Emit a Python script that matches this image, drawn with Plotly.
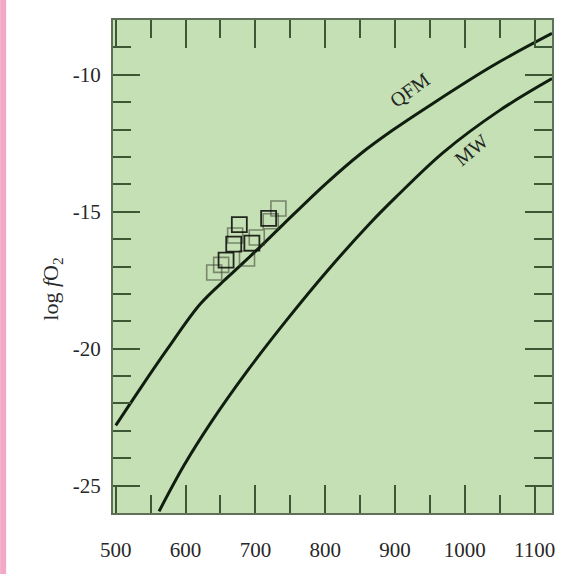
import plotly.graph_objects as go

# ---- data ----
qfm_t = [500, 536, 574, 621, 660, 700, 740, 800, 850, 898, 945, 1040, 1125]
qfm_f = [-22.8, -21.42, -20.01, -18.37, -17.4, -16.45, -15.46, -14.0, -12.9, -12.0, -11.2, -9.67, -8.49]

mw_t = [562, 598, 636, 688, 745, 802, 864, 902, 969, 1050, 1125]
mw_f = [-25.94, -24.25, -22.71, -20.83, -18.95, -17.19, -15.43, -14.45, -12.84, -11.3, -10.14]

sq_dark_t = [658, 669, 677, 695, 719]
sq_dark_f = [-16.77, -16.18, -15.47, -16.15, -15.24]
sq_light_t = [641, 651, 671, 688, 702, 722, 733]
sq_light_f = [-17.22, -16.94, -15.87, -16.71, -15.94, -15.35, -14.88]

x_tick_vals = [500, 600, 700, 800, 900, 1000, 1100]
x_tick_text = ["500", "600", "700", "800", "900", "1000", "1100"]
y_tick_vals = [-25, -20, -15, -10]
y_tick_text = ["-25", "-20", "-15", "-10"]

curve_labels = ["QFM", "MW"]

# ---- styling ----
FONT = "Liberation Serif, Times New Roman, serif"
LINE = "rgb(15,30,15)"
TICK = "rgb(60,88,52)"
BORDER = "rgb(95,112,88)"
BG = "rgb(198,224,181)"

fig = go.Figure()
fig.add_trace(go.Scatter(x=qfm_t, y=qfm_f, mode="lines",
                         line=dict(color=LINE, width=3, shape="spline", smoothing=1.0),
                         hoverinfo="skip"))
fig.add_trace(go.Scatter(x=mw_t, y=mw_f, mode="lines",
                         line=dict(color=LINE, width=3, shape="spline", smoothing=1.0),
                         hoverinfo="skip"))
fig.add_trace(go.Scatter(x=sq_light_t, y=sq_light_f, mode="markers",
                         marker=dict(symbol="square-open", size=15,
                                     color="rgba(55,60,50,0.55)", line=dict(width=1.6))))
fig.add_trace(go.Scatter(x=sq_dark_t, y=sq_dark_f, mode="markers",
                         marker=dict(symbol="square-open", size=15,
                                     color="rgba(15,20,15,0.9)", line=dict(width=1.8))))

fig.add_annotation(x=921, y=-10.55, text=curve_labels[0], showarrow=False,
                   textangle=-36, font=dict(family=FONT, size=20, color="rgb(30,40,30)"))
fig.add_annotation(x=1009, y=-12.75, text=curve_labels[1], showarrow=False,
                   textangle=-40, font=dict(family=FONT, size=20, color="rgb(30,40,30)"))

# y-axis title as annotation
fig.add_annotation(xref="paper", yref="paper", x=-0.139, y=0.455,
                   text="log <i>f</i>O<sub>2</sub>", showarrow=False, textangle=-90,
                   xanchor="center", yanchor="middle",
                   font=dict(family=FONT, size=22, color="rgb(40,40,40)"))

# pink strip on the left edge
fig.add_shape(type="rect", xref="paper", yref="paper",
              x0=-113 / 439.5, x1=(6 - 113) / 439.5, y0=-0.2, y1=1.2,
              fillcolor="rgb(244,168,200)", line=dict(width=0), layer="below")

fig.update_xaxes(range=[496, 1125], tickvals=x_tick_vals, ticktext=x_tick_text,
                 ticks="inside", ticklen=28, tickwidth=2, tickcolor=TICK,
                 minor=dict(tick0=500, dtick=50, ticks="inside", ticklen=18,
                            tickwidth=2, tickcolor=TICK),
                 showline=True, linecolor=BORDER, linewidth=2, mirror="ticks",
                 showgrid=False, zeroline=False, ticklabelstandoff=17,
                 tickfont=dict(family=FONT, size=21, color="rgb(40,40,40)"))
fig.update_yaxes(range=[-26, -8], tickvals=y_tick_vals, ticktext=y_tick_text,
                 ticks="inside", ticklen=27, tickwidth=2, tickcolor=TICK,
                 minor=dict(tick0=-26, dtick=1, ticks="inside", ticklen=18,
                            tickwidth=2, tickcolor=TICK),
                 showline=True, linecolor=BORDER, linewidth=2, mirror="ticks",
                 showgrid=False, zeroline=False, ticklabelstandoff=6,
                 tickfont=dict(family=FONT, size=21, color="rgb(40,40,40)"))

fig.update_layout(width=567, height=574, showlegend=False,
                  margin=dict(l=113, r=14.5, t=20, b=47),
                  plot_bgcolor=BG, paper_bgcolor="white")

fig.write_html("out.html", config={"displayModeBar": False},
               post_script="document.body.style.margin='0';document.body.style.padding='0';")
